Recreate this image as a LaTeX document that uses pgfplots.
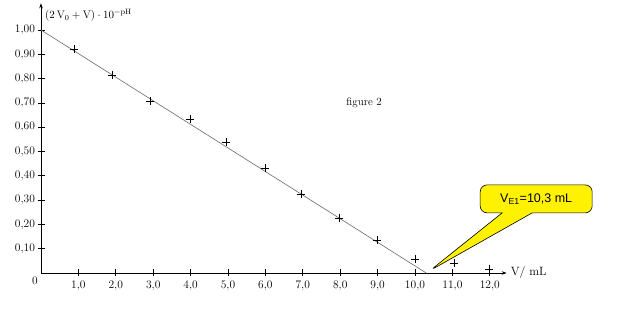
\documentclass[border=0pt]{standalone}
\usepackage{pgfplots}
\pgfplotsset{compat=1.18}
\usepackage{fontspec}
\newfontfamily\arialf{Liberation Sans}
\usetikzlibrary{shapes.callouts,arrows.meta}
\definecolor{fitline}{RGB}{105,105,110}
\begin{document}
\begin{tikzpicture}
\path[use as bounding box] (-41pt,-42pt) rectangle (587pt,273pt);
\begin{axis}[
  anchor=origin, at={(0pt,0pt)},
  x=37.4pt, y=243pt,
  xmin=0, xmax=12.45, ymin=0, ymax=1.11,
  axis lines=left,
  axis line style={black, line width=0.7pt, -{Stealth[length=5pt,width=3.5pt]}},
  xtick={1,2,3,4,5,6,7,8,9,10,11,12},
  xticklabels={1{,}0,2{,}0,3{,}0,4{,}0,5{,}0,6{,}0,7{,}0,8{,}0,9{,}0,10{,}0,11{,}0,12{,}0},
  ytick={0.1,0.2,0.3,0.4,0.5,0.6,0.7,0.8,0.9,1.0},
  yticklabels={0{,}10,0{,}20,0{,}30,0{,}40,0{,}50,0{,}60,0{,}70,0{,}80,0{,}90,1{,}00},
  tick align=center,
  major tick length=7pt,
  tick style={black, line width=0.7pt},
  ticklabel style={font=\fontsize{11.5}{13}\selectfont},
  xticklabel style={yshift=-1pt},
  yticklabel style={xshift=1pt},
  clip=false,
]
\addplot[color=fitline, line width=0.6pt] coordinates {(0,1.00) (10.3,0)};
\addplot[only marks, mark=+, mark size=4pt, mark options={line width=0.6pt, black}] coordinates {
(0.88,0.92) (1.90,0.815) (2.91,0.708) (3.98,0.634) (4.95,0.539) (5.99,0.432)
(6.95,0.325) (7.97,0.226) (8.98,0.136) (10.0,0.058) (11.04,0.040) (11.98,0.016)};
\node[anchor=north east, font=\fontsize{11.5}{13}\selectfont, inner sep=0pt] at (axis cs:0,0) [xshift=-3pt,yshift=-4pt] {0};
\node[anchor=west, inner sep=0pt, font=\fontsize{11}{13}\selectfont] at (axis cs:0,1.06) [xshift=4pt] {$(2\,\mathrm{V_0}+\mathrm{V})\cdot 10^{-\mathrm{pH}}$};
\node[anchor=west, inner sep=0pt, font=\fontsize{12}{14}\selectfont] at (axis cs:12.45,0) [xshift=4pt] {V/ mL};
\node[font=\fontsize{11}{13}\selectfont] at (axis cs:8.64,0.70) {figure 2};
\node[rectangle callout, draw=black, fill=yellow, rounded corners=7pt,
  minimum width=112pt, minimum height=28pt, line width=0.6pt,
  callout absolute pointer={(axis cs:10.4,0.01)}, callout pointer width=30pt,
  font=\arialf\fontsize{12.5}{14}\selectfont] at (axis cs:13.24,0.305) {V\textsubscript{E1}=10,3 mL};
\end{axis}
\end{tikzpicture}
\end{document}
